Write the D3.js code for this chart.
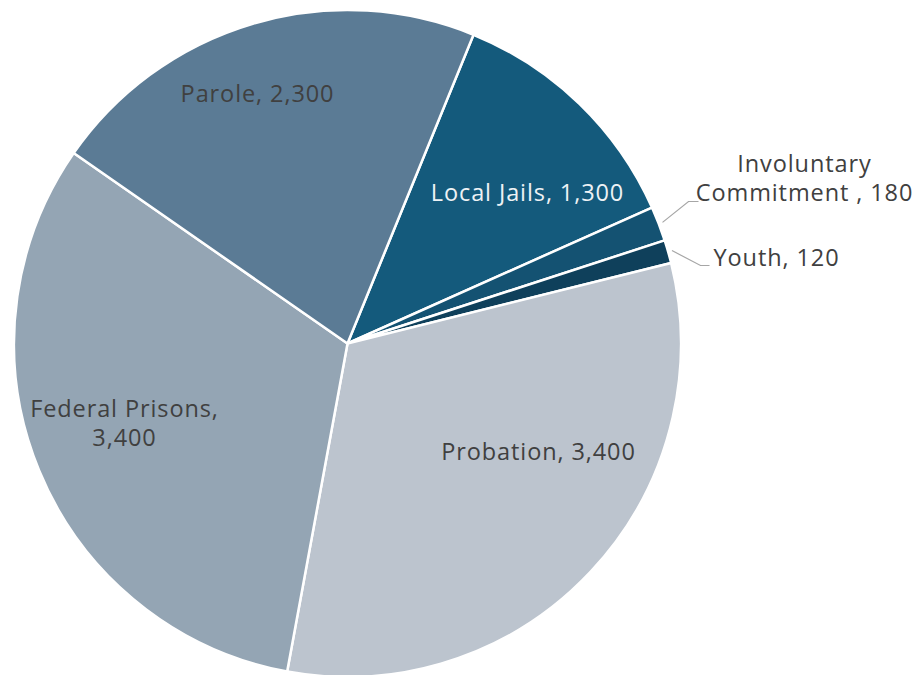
<!DOCTYPE html>
<html>
<head>
<meta charset="utf-8">
<script src="https://cdn.jsdelivr.net/npm/d3@7"></script>
<style>
  html, body { margin: 0; padding: 0; background: #fff; }
  svg text { font-family: "Open Sans", "Noto Sans", sans-serif; }
</style>
</head>
<body>
<script>
const categories = ["Local Jails", "Involuntary Commitment ", "Youth", "Probation", "Federal Prisons", "Parole"];
const values = [1300, 180, 120, 3400, 3400, 2300];
const colors = ["#145a7c", "#145272", "#0f405b", "#bcc4ce", "#94a5b4", "#5b7b95"];

const width = 915, height = 675;
const cx = 347.5, cy = 343.5, radius = 333.5;
const startAngle = 22.2 * Math.PI / 180;

// label placement relative to centre (manual, like the original)
const labelLayout = [
  { lines: ["Local Jails, 1,300"], x: 180, y: -151, fill: "#eef2f5", anchor: "middle" },
  { lines: ["Involuntary", "Commitment , 180"], x: 457, y: -165.5, fill: "#404040", anchor: "middle" },
  { lines: ["Youth, 120"], x: 366, y: -86, fill: "#404040", anchor: "start" },
  { lines: ["Probation, 3,400"], x: 191, y: 108, fill: "#404040", anchor: "middle" },
  { lines: ["Federal Prisons,", "3,400"], x: -223, y: 80, fill: "#404040", anchor: "middle" },
  { lines: ["Parole, 2,300"], x: -90, y: -250, fill: "#404040", anchor: "middle" }
];

const svg = d3.select("body").append("svg")
  .attr("width", width)
  .attr("height", height);

const g = svg.append("g").attr("transform", `translate(${cx},${cy})`);

const pie = d3.pie()
  .sort(null)
  .value(d => d)
  .startAngle(startAngle)
  .endAngle(startAngle + 2 * Math.PI);

const arc = d3.arc().innerRadius(0).outerRadius(radius);
const arcs = pie(values);

g.selectAll("path.slice")
  .data(arcs)
  .enter()
  .append("path")
  .attr("class", "slice")
  .attr("d", arc)
  .attr("fill", (d, i) => colors[i])
  .attr("stroke", "#fff")
  .attr("stroke-width", 2.5)
  .attr("stroke-linejoin", "round");

// leader lines for the two small slices
const edge = d3.arc().innerRadius(radius + 4).outerRadius(radius + 4);
const leaders = [
  { i: 1, bend: [341, -142], end: [351, -142] },
  { i: 2, bend: [353, -78], end: [362, -78] }
];
leaders.forEach(l => {
  const p = edge.centroid(arcs[l.i]);
  g.append("polyline")
    .attr("points", [p, l.bend, l.end].map(q => q.join(",")).join(" "))
    .attr("fill", "none")
    .attr("stroke", "#a6a6a6")
    .attr("stroke-width", 1.2);
});

const lineH = 29;
labelLayout.forEach(lab => {
  const t = g.append("text")
    .attr("text-anchor", lab.anchor)
    .attr("fill", lab.fill)
    .attr("font-size", 23.5)
    .attr("letter-spacing", 0.9)
    .attr("x", lab.x)
    .attr("y", lab.y);
  const n = lab.lines.length;
  lab.lines.forEach((s, k) => {
    t.append("tspan")
      .attr("x", lab.x)
      .attr("y", lab.y + (k - (n - 1) / 2) * lineH)
      .attr("dy", "0.35em")
      .text(s);
  });
});
</script>
</body>
</html>
